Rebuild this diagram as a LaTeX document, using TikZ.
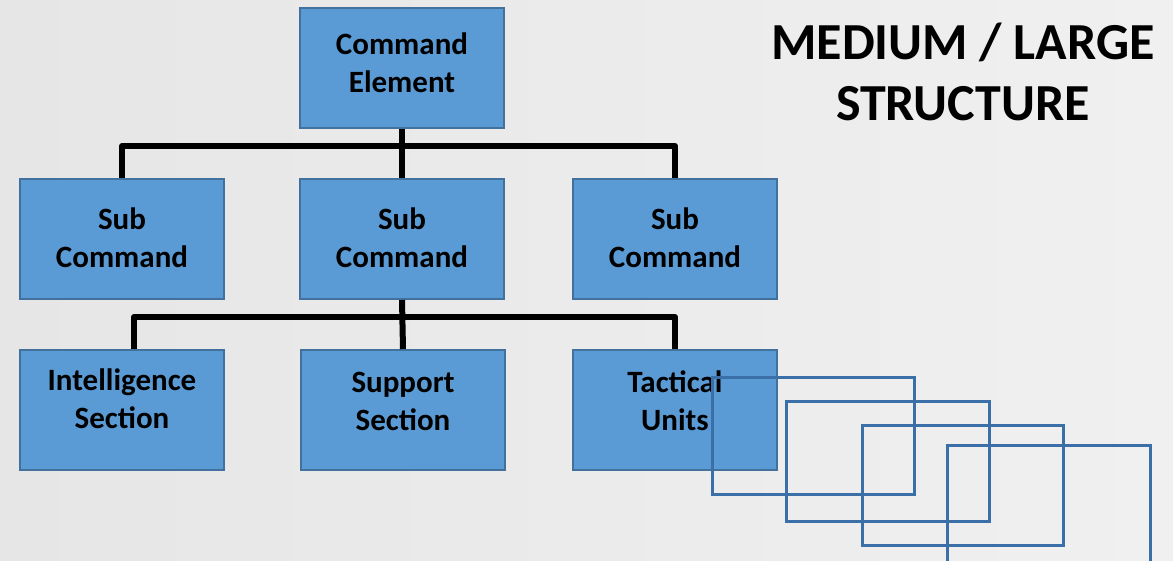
\documentclass[tikz,border=0pt]{standalone}
\usepackage{fontspec}
\setmainfont{Carlito}
\definecolor{boxfill}{HTML}{5B9BD5}
\definecolor{boxline}{HTML}{41719C}
\definecolor{outl}{HTML}{3B6FA8}
\definecolor{bgl}{HTML}{E6E6E6}
\definecolor{bgr}{HTML}{F0F0F0}
\begin{document}
\begin{tikzpicture}[x=1pt,y=-1pt,
  orgbox/.style={draw=boxline, line width=2pt, fill=boxfill, rectangle, anchor=north west,
    inner sep=0pt, minimum width=204pt, minimum height=120pt},
  boxtext/.style={inner sep=0pt, align=center, font=\fontsize{31}{38}\selectfont\bfseries},
  conn/.style={draw=black, line width=6pt, line join=round},
  outlinebox/.style={draw=outl, line width=3pt}]
\useasboundingbox (0,0) rectangle (1173,561);
\fill[left color=bgl, right color=bgr] (0,0) rectangle (1173,561);

\node[orgbox] (ce) at (299,7) {};
\node[orgbox] (sc1) at (19,178) {};
\node[orgbox] (sc2) at (299,178) {};
\node[orgbox] (sc3) at (572,178) {};
\node[orgbox] (is) at (19,349) {};
\node[orgbox] (ss) at (300,349) {};
\node[orgbox] (tu) at (572,349) {};

\node[boxtext] (cet) at ([yshift=5pt]ce.center) {Command\\Element};
\node[boxtext] (sc1t) at ([yshift=1pt]sc1.center) {Sub\\Command};
\node[boxtext] (sc2t) at ([yshift=1pt]sc2.center) {Sub\\Command};
\node[boxtext] (sc3t) at ([yshift=1pt]sc3.center) {Sub\\Command};
\node[boxtext] (ist) at ([yshift=11pt]is.center) {Intelligence\\Section};
\node[boxtext] (sst) at ([yshift=9pt]ss.center) {Support\\Section};
\node[boxtext] (tut) at ([yshift=9pt]tu.center) {Tactical\\Units};

\coordinate (bar1) at (0,146);
\coordinate (bar2) at (0,317);
\draw[conn] (ce.south) -- (sc2.north);
\draw[conn] (sc1.north) -- (sc1.north |- bar1) -- (sc3.north |- bar1) -- (sc3.north);
\draw[conn] (sc2.south) -- (ss.north);
\draw[conn] ([xshift=12pt]is.north) -- ([xshift=12pt]is.north |- bar2) -- (tu.north |- bar2) -- (tu.north);

\draw[outlinebox] (712,377) rectangle (914,494);
\draw[outlinebox] (786,401) rectangle (989,521);
\draw[outlinebox] (862,425) rectangle (1063,545);
\draw[outlinebox] (947,445) rectangle (1150,575);

\node[font=\fontsize{52}{61}\selectfont\bfseries, align=center, anchor=center] (title) at (963,72)
  {MEDIUM / LARGE\\STRUCTURE};
\end{tikzpicture}
\end{document}
